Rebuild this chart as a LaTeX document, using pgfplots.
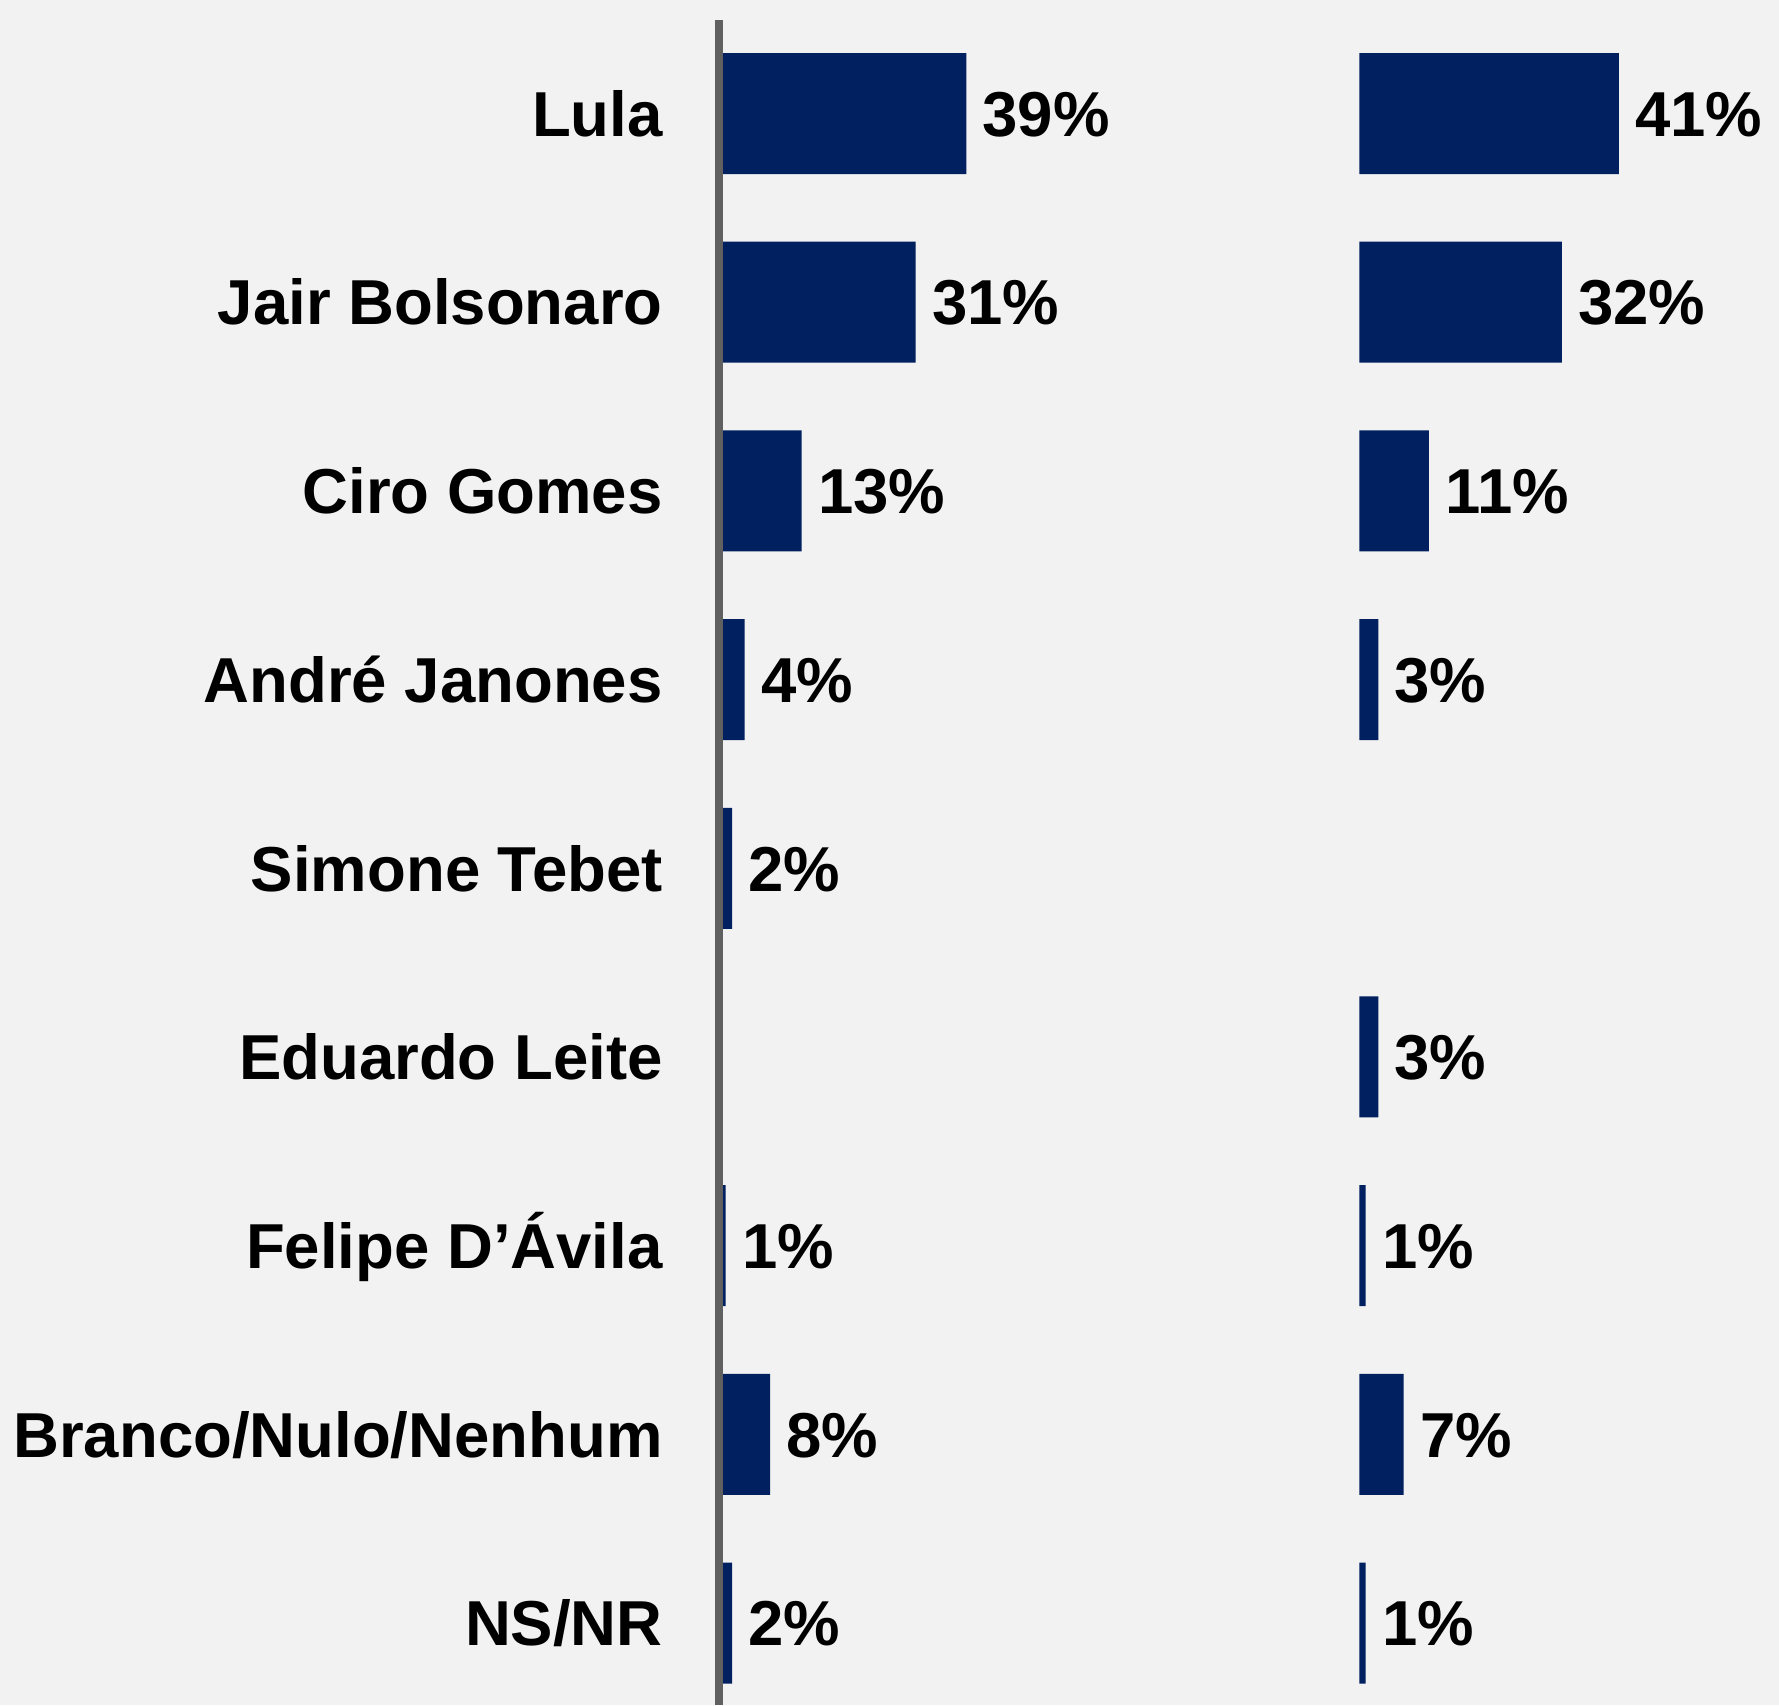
\documentclass[border=0pt]{standalone}
\usepackage{pgfplots}
\pgfplotsset{compat=1.18}
\usepackage{pgfplotstable}
\usepackage{fontspec}
\setmainfont{Liberation Sans}
\definecolor{barc}{HTML}{002060}
\definecolor{bgc}{HTML}{F2F2F2}
\definecolor{axc}{HTML}{606060}

\pgfplotstableread{
y v
8 39
7 31
6 13
5 4
4 2
2 1
1 8
0 2
}\lefttab

\pgfplotstableread{
y v
8 41
7 32
6 11
5 3
3 3
2 1
1 7
0 1
}\righttab

\pgfplotsset{
  panel/.style={
    x=3.165pt, y=94.34pt,
    xmin=0, xmax=60,
    ymin=-0.4346, ymax=8.496,
    xbar, bar width=60.5pt,
    clip=false,
    point meta=x,
    /pgf/number format/assume math mode=true,
    nodes near coords={\pgfmathprintnumber{\pgfplotspointmeta}\%},
    nodes near coords style={anchor=west, inner sep=0pt, xshift=8pt, black,
      font=\fontsize{31.75pt}{38pt}\selectfont\bfseries,
      text height=22.73pt, text depth=0pt},
  }
}

\begin{document}
\begin{tikzpicture}
\fill[bgc] (-359.7pt,0) rectangle (529.8pt,852.5pt);
\useasboundingbox (-359.7pt,0) rectangle (529.8pt,852.5pt);

\begin{axis}[panel,
  at={(0pt,0pt)}, anchor=south west,
  axis x line=none, axis y line=left,
  y axis line style={-, line width=4pt, draw=axc},
  axis on top,
  ytick={0,...,8},
  yticklabels={NS/NR, Branco/Nulo/Nenhum, Felipe D’Ávila, Eduardo Leite, Simone Tebet, André Janones, Ciro Gomes, Jair Bolsonaro, Lula},
  major tick length=0pt,
  ytick style={draw=none},
  yticklabel style={anchor=east, inner sep=0pt, xshift=-28.2pt, black,
    font=\fontsize{31.75pt}{38pt}\selectfont\bfseries,
    text height=22.73pt, text depth=0pt},
]
\addplot[fill=barc, draw=none] table[x=v, y=y] {\lefttab};
\end{axis}

\begin{axis}[panel,
  at={(319.95pt,0pt)}, anchor=south west,
  hide axis,
]
\addplot[fill=barc, draw=none] table[x=v, y=y] {\righttab};
\end{axis}
\end{tikzpicture}
\end{document}
